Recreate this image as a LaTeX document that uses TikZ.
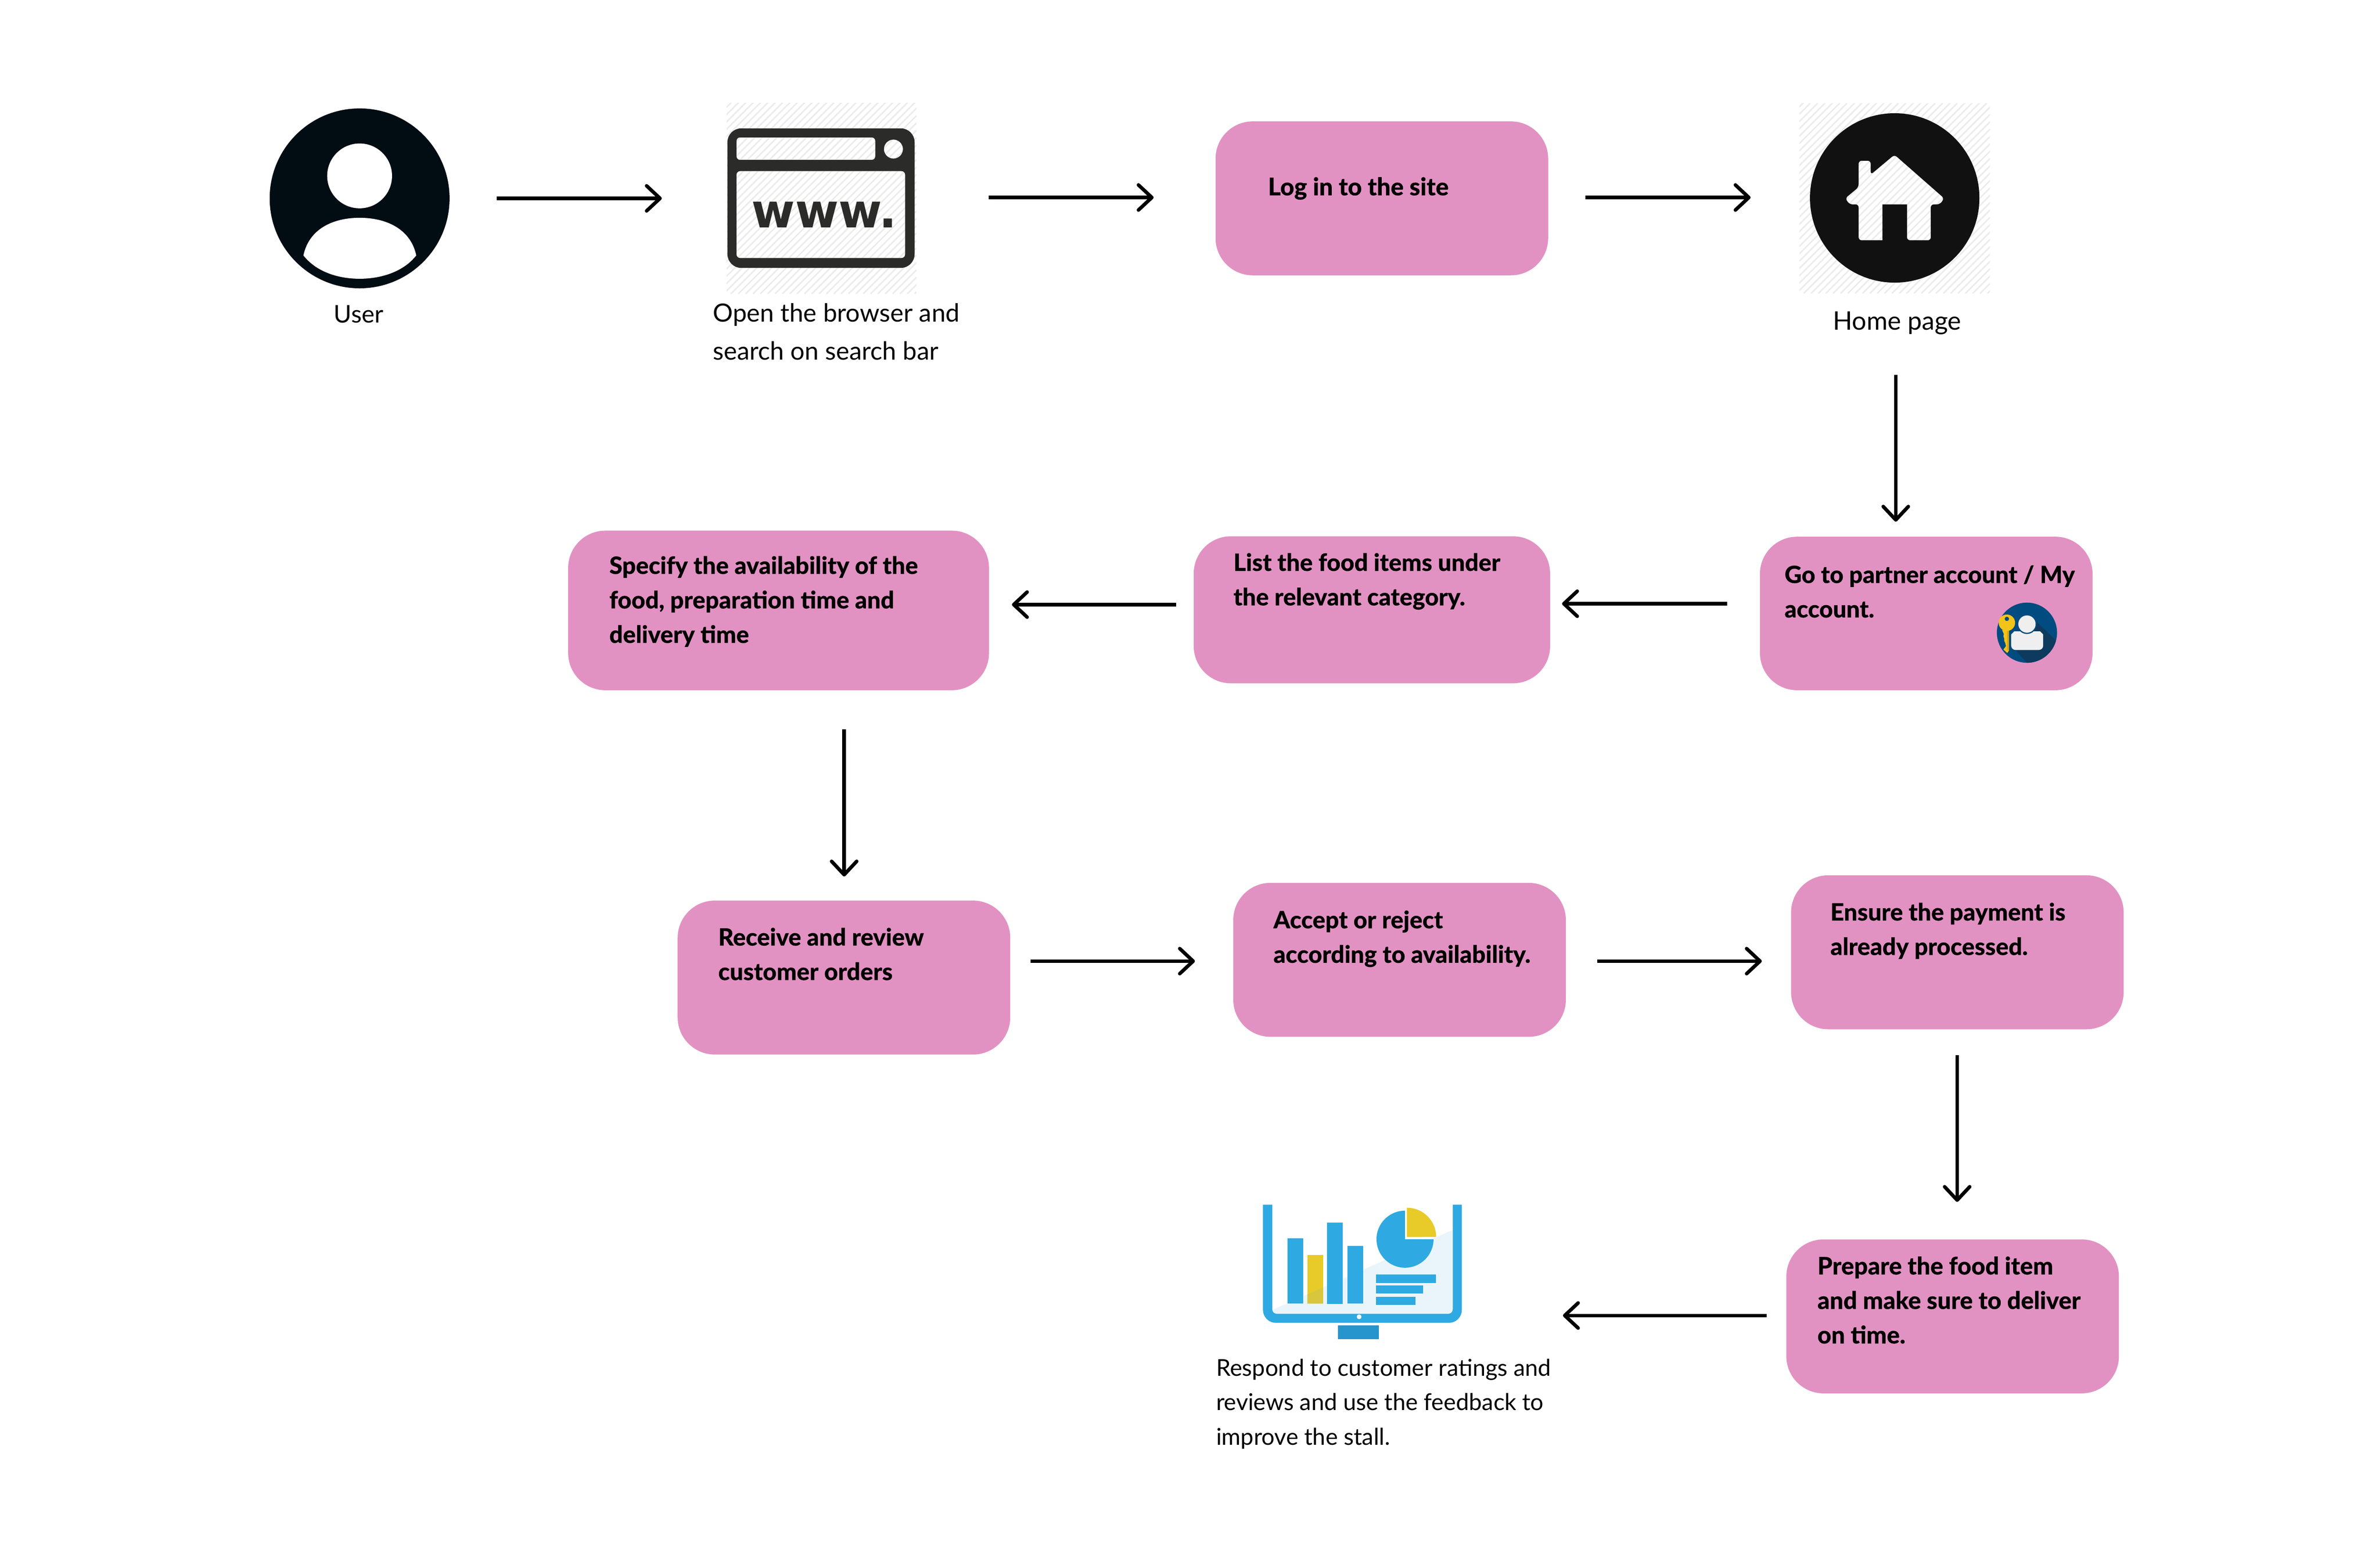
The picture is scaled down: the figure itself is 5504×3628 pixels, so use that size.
\documentclass[tikz,border=0pt]{standalone}
\usepackage{fontspec}
\usetikzlibrary{arrows.meta}
\setmainfont{Lato}
\newfontfamily\heavyfont{Lato Heavy}[FakeBold=0.2]
\newfontfamily\wwwfont{DejaVu Sans}[BoldFont={DejaVu Sans Bold}]
\definecolor{boxpink}{HTML}{E292C2}
\definecolor{userink}{HTML}{020C13}
\definecolor{winink}{HTML}{2B2B29}
\definecolor{homeink}{HTML}{111111}
\definecolor{monblue}{HTML}{2FA9E1}
\definecolor{standblue}{HTML}{2695CD}
\definecolor{monlight}{HTML}{EAF5FB}
\definecolor{monyellow}{HTML}{E8CB28}
\definecolor{monyellowb}{HTML}{D8C63F}
\definecolor{badgeblue}{HTML}{004B80}
\definecolor{badgedark}{HTML}{0E3A5E}
\definecolor{badgelight}{HTML}{EFEFEF}
\definecolor{keygold}{HTML}{F2C318}
\definecolor{keyshade}{HTML}{E0A812}
\definecolor{hatchgrey}{HTML}{EBEBEB}
\newcommand\stacklines[1]{\begin{tabular}[t]{@{}l@{}}#1\end{tabular}}
\newcommand\hatchrect[4]{%
  \begin{scope}
    \clip (#1,#2) rectangle (#3,#4);
    \foreach \s in {0,17,...,1000}
      \draw[hatchgrey,line width=0.32mm] (#1-500+\s,#4) -- (#1-500+\s+500,#4-500);
  \end{scope}}
\tikzset{
  procbox/.style={rectangle,fill=boxpink,rounded corners=0.86cm,inner sep=0pt,minimum height=3.56cm,minimum width=7.69cm},
  boxtext/.style={anchor=base west,inner sep=0pt,text=black,font=\heavyfont\fontsize{15.7}{22.7}\selectfont},
  plaintext/.style={anchor=base west,inner sep=0pt,text=black,font=\fontsize{16}{22.7}\selectfont},
  flow/.style={draw=black,line width=0.82mm,-{Straight Barb[length=3.1mm,width=5.8mm,round]}},
  ghost/.style={rectangle,inner sep=0pt}
}
\begin{document}
\begin{tikzpicture}[x=0.01cm,y=-0.01cm]
\useasboundingbox (0,0) rectangle (5504,3628);
\fill[white] (0,0) rectangle (5504,3628);

% user icon
\node[circle,fill=userink,inner sep=0pt,minimum size=4.16cm] (user) at (832,459) {};
\fill[white] (832,407) circle (75);
\fill[white] (702,591) .. controls (715,530) and (770,504) .. (832,504)
  .. controls (894,504) and (950,530) .. (963,591)
  .. controls (935,627) and (885,645) .. (832,645)
  .. controls (779,645) and (730,627) .. (702,591) -- cycle;
\node[plaintext,anchor=base] (userlabel) at (830,747) {User};

% browser icon
\hatchrect{1681}{238}{2120}{680}
\node[ghost,minimum width=4.39cm,minimum height=4.42cm] (browser) at (1900.5,459) {};
\fill[winink,even odd rule]
  [rounded corners=0.32cm] (1683,297) rectangle (2116,620)
  [rounded corners=0.08cm] (1704,318) rectangle (2025,370)
  [rounded corners=0.08cm] (1704,396) rectangle (2094,597)
  [sharp corners] (2067,345) circle (22);
\node[anchor=base west,inner sep=0pt,text=winink,font=\wwwfont\bfseries\fontsize{31}{31}\selectfont] (wwwtext) at (1738,527) {www.};
\node[plaintext,font=\fontsize{16.5}{24.9}\selectfont] (browserlabel) at (1649,745) {\stacklines{Open the browser and\\search on search bar}};

% login
\node[procbox] (login) at (3197,459) {};
\node[boxtext,font=\heavyfont\fontsize{16}{22.7}\selectfont] (logintext) at (2933,452) {Log in to the site};

% home icon
\hatchrect{4163}{239}{4604}{679}
\node[ghost,minimum width=4.41cm,minimum height=4.40cm] (home) at (4383.5,459) {};
\fill[homeink,even odd rule] (4383.5,458) circle (196)
  [rounded corners=0.07cm] (4383,358) -- (4498,459) -- (4488,473) -- (4467,473)
  -- (4467,556) -- (4412,556) [sharp corners] -- (4412,473) -- (4355,473) -- (4355,556)
  [rounded corners=0.07cm] -- (4300,556) -- (4300,473) -- (4279,473) -- (4269,459) -- (4300,433)
  -- (4300,372) -- (4328,372) -- (4328,404) -- cycle;
\node[plaintext,anchor=base,font=\fontsize{16.8}{22.7}\selectfont] (homelabel) at (4389,763) {Home page};

% partner
\node[procbox,minimum height=3.55cm] (partner) at (4456.5,1419.5) {};
\node[boxtext,font=\heavyfont\fontsize{15.6}{22.7}\selectfont] (partnertext) at (4128,1349) {\stacklines{Go to partner account / My\\account.}};
% badge
\fill[badgeblue] (4689.5,1464) circle (69.6);
\begin{scope}
  \clip (4689.5,1464) circle (69.6);
  \fill[badgedark] (4662,1503) -- (4695,1540) -- (4770,1540) -- (4770,1495) -- (4710,1437) -- cycle;
\end{scope}
\fill[badgelight,rounded corners=0.1cm] (4653,1504) -- (4653,1478) .. controls (4653,1468) and (4660,1461) .. (4670,1461)
  -- (4710,1461) .. controls (4720,1461) and (4727,1468) .. (4727,1478) -- (4727,1504) -- cycle;
\fill[badgeblue] (4689.5,1444) circle (23);
\fill[badgelight] (4689.5,1444) circle (20);
\fill[keygold] (4632,1458) -- (4636,1467) -- (4635,1472) -- (4637,1478) -- (4637,1483) -- (4639,1487) -- (4641,1495)
  -- (4635,1503) -- (4644,1511) -- (4648,1505) -- (4648,1458) -- cycle;
\fill[keyshade] (4643,1458) rectangle (4648,1505);
\fill[keygold] (4643,1441) circle (19);
\fill[badgeblue] (4643,1432) circle (5);

% list
\node[procbox,minimum width=8.24cm,minimum height=3.40cm] (listitems) at (3174,1411) {};
\node[boxtext] (listtext) at (2853,1321) {\stacklines{List the food items under\\the relevant category.}};

% specify
\node[procbox,minimum width=9.73cm,minimum height=3.69cm] (specify) at (1801.3,1412.5) {};
\node[boxtext] (specifytext) at (1409,1328) {\stacklines{Specify the availability of the\\food, preparation time and\\delivery time}};

% receive
\node[procbox] (receive) at (1952.5,2262) {};
\node[boxtext] (receivetext) at (1661,2188) {\stacklines{Receive and review\\customer orders}};

% accept
\node[procbox] (accept) at (3238,2221) {};
\node[boxtext] (accepttext) at (2945.5,2148) {\stacklines{Accept or reject\\according to availability.}};

% ensure
\node[procbox] (ensure) at (4528.5,2203.5) {};
\node[boxtext] (ensuretext) at (4234,2130) {\stacklines{Ensure the payment is\\already processed.}};

% prepare
\node[procbox] (prepare) at (4517.5,3046) {};
\node[boxtext,font=\heavyfont\fontsize{15.85}{22.7}\selectfont] (preparetext) at (4204,2949) {\stacklines{Prepare the food item\\and make sure to deliver\\on time.}};

% monitor
\node[ghost,minimum width=4.60cm,minimum height=3.12cm] (monitor) at (3152,2943) {};
\fill[monlight] (3361,2846) -- (3361,3040) -- (2943.5,3040) -- (2943.5,3031) -- cycle;
\fill[monblue] (2922,2787.5) [rounded corners=0.3cm] -- (2922,3061) -- (3382,3061) [sharp corners] -- (3382,2787.5)
  -- (3361,2787.5) [rounded corners=0.1cm] -- (3361,3040) -- (2943.5,3040) [sharp corners] -- (2943.5,2787.5) -- cycle;
\fill[monblue] (2979,2865) rectangle (3015,3016.5);
\fill[monyellow] (3024.5,2903.6) rectangle (3061,3016.5);
\fill[monyellowb] (3024.5,2995) -- (3061,2979) -- (3061,3016.5) -- (3024.5,3016.5) -- cycle;
\fill[monblue] (3070,2828.6) rectangle (3106,3017);
\fill[monblue] (3117,2883.5) rectangle (3153.6,3016.5);
\fill[monblue] (3250.6,2867.4) -- (3250.6,2801.4) arc[start angle=-90,end angle=-360,radius=66] -- cycle;
\fill[monyellow] (3255,2862.5) -- (3255,2794.6) arc[start angle=-90,end angle=0,radius=67.6] -- cycle;
\fill[monblue] (3183,2949) rectangle (3322.4,2968.8);
\fill[monblue] (3183,2974) rectangle (3292.5,2993);
\fill[monblue] (3183,3000.4) rectangle (3274.7,3020);
\fill[white] (3144.4,3047) circle (5.5);
\fill[standblue] (3095.6,3067) rectangle (3190,3099);
\node[plaintext,font=\fontsize{15.25}{22.7}\selectfont] (monitorlabel) at (2813,3184) {\stacklines{Respond to customer ratings and\\reviews and use the feedback to\\improve the stall.}};

% connectors
\draw[flow,shorten <=1.08cm,shorten >=1.49cm] (user.east |- 0,459) -- (browser.west |- 0,459);
\draw[flow,shorten <=1.66cm,shorten >=1.425cm] (browser.east |- 0,457) -- (login.west |- 0,457);
\draw[flow,shorten <=0.854cm,shorten >=1.12cm] (login.east |- 0,457) -- (home.west |- 0,457);
\draw[flow,shorten <=1.87cm,shorten >=0.34cm] (4386,0 |- home.south) -- (4386,0 |- partner.north);
\draw[flow,shorten <=0.75cm,shorten >=0.27cm] (partner.west |- 0,1397) -- (listitems.east |- 0,1397);
\draw[flow,shorten <=0.40cm,shorten >=0.524cm] (listitems.west |- 0,1399) -- (specify.east |- 0,1399);
\draw[flow,shorten <=0.90cm,shorten >=0.55cm] (1953,0 |- specify.south) -- (1953,0 |- receive.north);
\draw[flow,shorten <=0.46cm,shorten >=0.88cm] (receive.east |- 0,2224) -- (accept.west |- 0,2224);
\draw[flow,shorten <=0.72cm,shorten >=0.67cm] (accept.east |- 0,2224) -- (ensure.west |- 0,2224);
\draw[flow,shorten <=0.59cm,shorten >=0.86cm] (4528,0 |- ensure.south) -- (4528,0 |- prepare.north);
\draw[flow,shorten <=0.45cm,shorten >=2.33cm] (prepare.west |- 0,3044) -- (monitor.east |- 0,3044);
\end{tikzpicture}
\end{document}
